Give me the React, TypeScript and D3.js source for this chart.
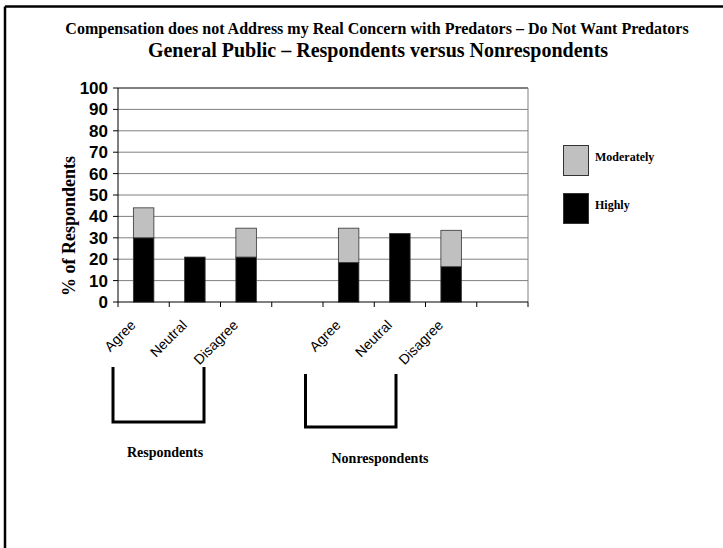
import React from "react";
import * as d3 from "d3";

const categories = ["Agree", "Neutral", "Disagree", "", "Agree", "Neutral", "Disagree", ""];
const categoryKeys = ["R-Agree", "R-Neutral", "R-Disagree", "gap1", "N-Agree", "N-Neutral", "N-Disagree", "gap2"];
const highly = [30, 21, 21, 0, 18.5, 32, 16.5, 0];
const moderately = [14, 0, 13.5, 0, 16, 0, 17, 0];
const yTicks = [0, 10, 20, 30, 40, 50, 60, 70, 80, 90, 100];
const seriesNames = ["Moderately", "Highly"];
const seriesColors = ["#C0C0C0", "#000000"];
const groupLabels = ["Respondents", "Nonrespondents"];

const W = 723;
const H = 548;
const left = 118;
const right = 528;
const top = 88;
const bottom = 302;

export default function App() {
  const x = d3.scaleBand<string>().domain(categoryKeys).range([left, right]).padding(0);
  const y = d3.scaleLinear().domain([0, 100]).range([bottom, top]);
  const bw = x.bandwidth() * 0.4;
  const serif = "'Liberation Serif', 'Times New Roman', serif";
  const sans = "'Liberation Sans', Arial, sans-serif";

  return (
    <div style={{ position: "absolute", left: 0, top: 0 }}>
      <svg width={W} height={H} style={{ display: "block", background: "#fff" }}>
        {/* frame */}
        <line x1={5} y1={6.5} x2={W} y2={6.5} stroke="#000" strokeWidth={2.5} />
        <line x1={5} y1={6.5} x2={5} y2={H} stroke="#000" strokeWidth={2.5} />

        {/* titles */}
        <text x={377} y={34} textAnchor="middle" fontFamily={serif} fontWeight="bold" fontSize={16}>
          Compensation does not Address my Real Concern with Predators – Do Not Want Predators
        </text>
        <text x={378} y={57} textAnchor="middle" fontFamily={serif} fontWeight="bold" fontSize={20}>
          General Public – Respondents versus Nonrespondents
        </text>

        {/* gridlines */}
        {yTicks.filter((t) => t > 0).map((t) => (
          <line
            key={"g" + t}
            x1={left}
            x2={right}
            y1={y(t)}
            y2={y(t)}
            stroke={t === 100 ? "#000" : "#808080"}
            strokeWidth={1}
          />
        ))}
        <line x1={right} x2={right} y1={top} y2={bottom} stroke="#808080" strokeWidth={1} />

        {/* bars */}
        {categoryKeys.map((k, i) => {
          const cx = (x(k) as number) + x.bandwidth() / 2;
          const h = highly[i];
          const m = moderately[i];
          return (
            <g key={k}>
              {h > 0 && (
                <rect x={cx - bw / 2} y={y(h)} width={bw} height={y(0) - y(h)} fill={seriesColors[1]} stroke="#333" strokeWidth={0.8} />
              )}
              {m > 0 && (
                <rect x={cx - bw / 2} y={y(h + m)} width={bw} height={y(h) - y(h + m)} fill={seriesColors[0]} stroke="#333" strokeWidth={0.8} />
              )}
            </g>
          );
        })}

        {/* y axis */}
        <line x1={left} x2={left} y1={top} y2={bottom} stroke="#000" strokeWidth={1} />
        {yTicks.map((t) => (
          <g key={"y" + t}>
            <line x1={left - 5} x2={left} y1={y(t)} y2={y(t)} stroke="#000" />
            <text x={108} y={y(t) + 6} textAnchor="end" fontFamily={sans} fontWeight="bold" fontSize={17}>
              {t}
            </text>
          </g>
        ))}
        <text
          transform={`translate(75,226) rotate(-90)`}
          textAnchor="middle"
          fontFamily={serif}
          fontWeight="bold"
          fontSize={18}
        >
          % of Respondents
        </text>

        {/* x axis */}
        <line x1={left} x2={right} y1={bottom} y2={bottom} stroke="#000" strokeWidth={1} />
        {categoryKeys.map((k) => (
          <line key={"xt" + k} x1={x(k) as number} x2={x(k) as number} y1={bottom} y2={bottom + 5} stroke="#000" />
        ))}
        <line x1={right} x2={right} y1={bottom} y2={bottom + 5} stroke="#000" />
        {categoryKeys.map((k, i) =>
          categories[i] ? (
            <text
              key={"xl" + k}
              transform={`translate(${(x(k) as number) + x.bandwidth() / 2 - 7},${bottom + 24}) rotate(-45)`}
              textAnchor="end"
              fontFamily={sans}
              fontSize={14}
            >
              {categories[i]}
            </text>
          ) : null
        )}

        {/* legend */}
        {seriesNames.map((s, i) => (
          <g key={s}>
            <rect x={563.5} y={145.5 + i * 48} width={25} height={30} fill={seriesColors[i]} stroke="#333" strokeWidth={1} />
            <text x={595} y={161 + i * 48} fontFamily={serif} fontWeight="bold" fontSize={12}>
              {s}
            </text>
          </g>
        ))}

        {/* group brackets */}
        <path d="M113,367 V422 H204 V367" fill="none" stroke="#000" strokeWidth={3} />
        <path d="M305.5,374 V427 H396 V374" fill="none" stroke="#000" strokeWidth={3} />
        <text x={165} y={457} textAnchor="middle" fontFamily={serif} fontWeight="bold" fontSize={14}>
          {groupLabels[0]}
        </text>
        <text x={380} y={463} textAnchor="middle" fontFamily={serif} fontWeight="bold" fontSize={14}>
          {groupLabels[1]}
        </text>
      </svg>
    </div>
  );
}
